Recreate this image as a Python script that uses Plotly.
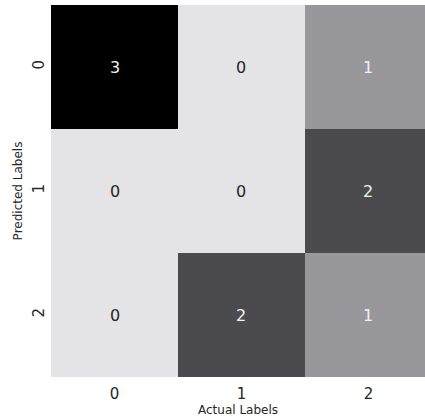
import plotly.graph_objects as go

actual_labels = ["0", "1", "2"]
predicted_labels = ["0", "1", "2"]
counts = [
    [3, 0, 1],
    [0, 0, 2],
    [0, 2, 1],
]

colorscale = [
    [0.0, "#e4e4e7"],
    [1 / 3, "#98989c"],
    [2 / 3, "#4b4b4f"],
    [1.0, "#000000"],
]

fig = go.Figure(
    go.Heatmap(
        z=counts,
        x=list(range(len(actual_labels))),
        y=list(range(len(predicted_labels))),
        colorscale=colorscale,
        zmin=0,
        zmax=3,
        showscale=False,
        xgap=0,
        ygap=0,
        hoverinfo="skip",
    )
)

for i, row in enumerate(counts):
    for j, v in enumerate(row):
        fig.add_annotation(
            x=j, y=i, text=str(v), showarrow=False,
            font=dict(family="DejaVu Sans", size=16,
                      color="#f2f2f2" if v >= 1 else "#262626"),
        )

fig.update_layout(
    width=425,
    height=419,
    margin=dict(l=51, r=0, t=5, b=42, pad=0),
    paper_bgcolor="white",
    plot_bgcolor="white",
    font=dict(family="DejaVu Sans", color="#262626"),
)
fig.update_xaxes(
    range=[-0.5, 2.445],
    tickvals=list(range(len(actual_labels))),
    ticktext=actual_labels,
    tickfont=dict(size=15),
    ticklabelstandoff=6,
    title=dict(text="Actual Labels", font=dict(size=12), standoff=0),
    showgrid=False, zeroline=False, ticks="", automargin=False,
)
fig.update_yaxes(
    range=[2.5, -0.5],
    tickvals=list(range(len(predicted_labels))),
    ticktext=predicted_labels,
    tickangle=-90,
    tickfont=dict(size=15),
    ticklabelstandoff=3,
    title=dict(text="Predicted Labels", font=dict(size=12), standoff=4),
    showgrid=False, zeroline=False, ticks="", automargin=False,
)

fig.write_html(
    "out.html",
    config={"displayModeBar": False},
    post_script="document.body.style.margin='0';document.body.style.padding='0';document.body.style.overflow='hidden';",
)
